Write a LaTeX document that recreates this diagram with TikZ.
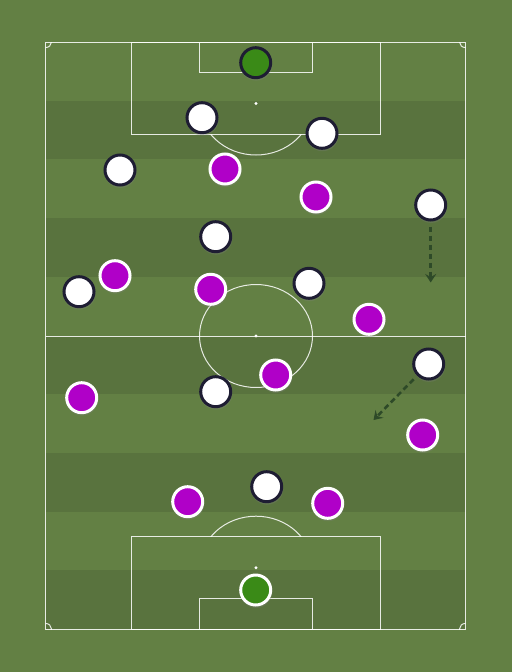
\documentclass[tikz,border=0pt]{standalone}
\usetikzlibrary{arrows.meta,shadows}
\definecolor{grassL}{RGB}{99,128,68}
\definecolor{grassD}{RGB}{89,115,62}
\definecolor{navy}{RGB}{30,29,51}
\definecolor{purp}{RGB}{176,0,200}
\definecolor{gkgreen}{RGB}{58,138,23}
\definecolor{arrowc}{RGB}{46,74,40}
\tikzset{
  pline/.style={draw=white,draw opacity=0.85,line width=1pt},
  player/.style={circle,minimum size=30pt,inner sep=0pt,line width=3pt,
     drop shadow={shadow xshift=0.4pt,shadow yshift=-1.6pt,opacity=0.28,shadow scale=1.08}},
  wplayer/.style={player,fill=white,draw=navy},
  pplayer/.style={player,fill=purp,draw=white},
  gktop/.style={player,fill=gkgreen,draw=navy},
  gkbot/.style={player,fill=gkgreen,draw=white},
  runarrow/.style={draw=arrowc,line width=2.6pt,dash pattern=on 5.5pt off 3.5pt,
     -{Stealth[length=8.5pt,width=11pt,inset=3pt]},shorten <=5pt},
}
\begin{document}
\begin{tikzpicture}[x=1pt,y=-1pt]
\useasboundingbox (0,0) rectangle (512,672);
\fill[grassL] (0,0) rectangle (512,672);
% stripes
\foreach \i in {1,3,5,7,9}{
  \fill[grassD] (45.5,{42+58.7*\i}) rectangle (465.5,{42+58.7*(\i+1)});
}
% pitch lines
\draw[pline] (45.5,42) rectangle (465.5,629);
\draw[pline] (45.5,336) -- (465.5,336);
\draw[pline] (256,336) circle[x radius=56.5pt,y radius=51.5pt];
\fill[white] (256,336) circle[radius=1.6pt];
% top box
\draw[pline] (131.5,42) rectangle (380.5,134.5);
\draw[pline] (199.5,42) rectangle (312.5,72.5);
\fill[white] (256,103.5) circle[radius=1.6pt];
\begin{scope}
  \clip (100,134.5) rectangle (420,200);
  \draw[pline] (256,103.5) circle[x radius=56.5pt,y radius=51.5pt];
\end{scope}
% bottom box
\draw[pline] (131.5,536) rectangle (380.5,629);
\draw[pline] (199.5,598.3) rectangle (312.5,629);
\fill[white] (256,567.7) circle[radius=1.6pt];
\begin{scope}
  \clip (100,536) rectangle (420,470);
  \draw[pline] (256,567.7) circle[x radius=56.5pt,y radius=51.5pt];
\end{scope}
% corner arcs
\begin{scope}
  \clip (45.5,42) rectangle (465.5,629);
  \foreach \cx/\cy in {45.5/42,465.5/42,45.5/629,465.5/629}{
    \draw[pline] (\cx,\cy) circle[x radius=6pt,y radius=5.6pt];
  }
\end{scope}
% white team (top)
\node[gktop] (gk1) at (255.7,62.7) {};
\node[wplayer] (w1) at (202,117.7) {};
\node[wplayer] (w2) at (322,133.3) {};
\node[wplayer] (w3) at (120,170) {};
\node[wplayer] (w4) at (215.7,236.7) {};
\node[wplayer] (w5) at (430.7,205) {};
\node[wplayer] (w6) at (79,291.7) {};
\node[wplayer] (w7) at (309,283.3) {};
\node[wplayer] (w8) at (428.7,364) {};
\node[wplayer] (w9) at (215.7,391.7) {};
\node[wplayer] (w10) at (266.7,486.7) {};
% purple team (bottom)
\node[pplayer] (p1) at (225,169) {};
\node[pplayer] (p2) at (316,197) {};
\node[pplayer] (p3) at (115,275.7) {};
\node[pplayer] (p4) at (210.7,289.3) {};
\node[pplayer] (p5) at (369,319.3) {};
\node[pplayer] (p6) at (275.7,375) {};
\node[pplayer] (p7) at (81.7,397.7) {};
\node[pplayer] (p8) at (422.7,435) {};
\node[pplayer] (p9) at (187.7,501.7) {};
\node[pplayer] (p10) at (327.7,503.3) {};
\node[gkbot] (gk2) at (255.7,590) {};
% runs
\coordinate (r1) at (430.7,282.5);
\coordinate (r2) at (373.5,420);
\draw[runarrow] (w5) -- (r1);
\draw[runarrow] (w8) -- (r2);
\end{tikzpicture}
\end{document}
